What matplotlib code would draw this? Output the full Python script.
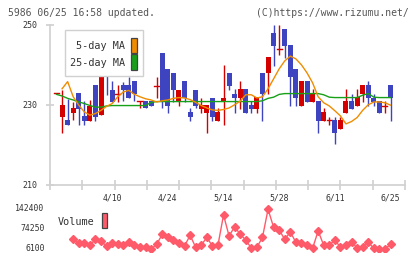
import numpy as np
import matplotlib
matplotlib.use("Agg")
import matplotlib.pyplot as plt
from matplotlib.patches import Rectangle
from matplotlib.transforms import blended_transform_factory

# ---------------- data ----------------
date_labels = ["4/10", "4/24", "5/14", "5/28", "6/11", "6/25"]
date_label_idx = [10, 20, 30, 40, 50, 60]

opens = [233.0, 227.0, 226.1, 228.0, 232.9, 227.1, 226.0, 234.9, 227.4, 238.9,
         233.8, 232.7, 234.9, 234.9, 235.9, 230.9, 230.9, 230.9, 234.7, 243.0,
         238.9, 237.9, 230.7, 235.9, 228.1, 233.8, 229.0, 228.0, 231.8, 226.0,
         230.7, 237.9, 232.8, 231.7, 233.9, 229.9, 229.0, 237.9, 237.9, 248.0,
         243.9, 249.0, 245.0, 238.9, 229.7, 235.9, 230.7, 230.9, 226.0, 226.1,
         226.1, 223.9, 228.0, 230.9, 229.7, 232.8, 234.9, 231.8, 230.9, 229.8,
         234.9]
closes = [233.0, 229.9, 225.0, 229.1, 229.0, 226.0, 229.8, 226.9, 236.9, 237.7,
          230.7, 232.7, 233.7, 231.7, 232.7, 230.9, 229.1, 229.8, 234.7, 230.7,
          229.8, 233.7, 233.8, 231.7, 227.0, 229.6, 229.9, 229.9, 227.0, 228.2,
          231.8, 234.7, 231.7, 233.9, 228.0, 229.0, 231.9, 232.8, 242.0, 244.8,
          243.9, 244.8, 236.9, 231.7, 235.9, 230.7, 232.8, 226.0, 228.1, 226.1,
          222.9, 226.1, 230.9, 229.0, 231.9, 234.9, 231.8, 230.7, 228.0, 229.8,
          231.8]
highs = [233.0, 233.7, 231.5, 230.7, 232.9, 231.0, 231.2, 234.9, 237.2, 238.9,
         236.0, 234.9, 235.7, 236.9, 235.9, 230.9, 230.9, 230.9, 236.9, 243.0,
         238.9, 237.9, 233.8, 235.9, 229.1, 233.8, 231.8, 229.9, 231.8, 229.1,
         240.0, 237.9, 233.9, 235.9, 233.9, 230.9, 231.9, 237.9, 242.0, 250.0,
         250.0, 249.0, 245.0, 238.9, 235.9, 235.9, 233.9, 230.9, 229.1, 226.9,
         226.9, 226.9, 233.9, 232.8, 233.9, 234.9, 235.9, 232.8, 230.9, 230.9,
         234.9]
lows = [233.0, 223.0, 225.0, 226.1, 225.0, 225.0, 226.0, 226.0, 227.4, 232.4,
        230.7, 230.7, 231.0, 231.7, 231.0, 229.1, 229.1, 229.8, 231.8, 229.1,
        228.0, 230.7, 229.6, 230.7, 226.0, 229.1, 228.0, 222.9, 226.0, 226.0,
        224.9, 233.7, 228.0, 229.0, 228.0, 228.0, 228.0, 226.0, 232.8, 239.8,
        242.6, 241.8, 229.7, 229.7, 229.7, 230.7, 230.7, 222.9, 226.0, 225.0,
        220.1, 223.9, 228.0, 229.0, 229.7, 230.7, 229.7, 229.7, 228.0, 228.0,
        226.0]
ma5 = [np.nan, 234.0, 235.8, 232.0, 229.9, 228.2, 227.4, 227.8, 228.6, 229.6,
       230.3, 232.0, 233.2, 233.6, 232.6, 232.0, 231.5, 231.2, 230.7, 231.0,
       231.2, 231.6, 231.8, 231.7, 231.3, 230.6, 229.8, 229.2, 228.7, 228.6,
       228.8, 229.2, 230.0, 230.9, 232.5, 232.5, 231.7, 232.0, 234.0, 236.5,
       239.0, 241.0, 242.2, 241.5, 240.0, 238.0, 235.5, 232.0, 230.5, 229.7,
       228.5, 227.2, 225.2, 225.8, 226.8, 228.6, 230.0, 230.7, 230.7, 230.5,
       229.9]
ma25 = [232.6, 232.2, 231.6, 231.2, 230.7, 230.3, 229.8, 229.4, 229.4, 229.7,
        229.8, 229.8, 229.8, 229.8, 229.8, 229.8, 229.8, 230.6, 230.8, 230.8,
        230.8, 230.8, 230.8, 230.8, 230.8, 230.8, 230.8, 230.8, 230.8, 230.8,
        230.8, 230.8, 230.8, 230.8, 230.8, 230.8, 230.8, 231.0, 231.6, 231.9,
        232.6, 232.8, 232.8, 232.8, 232.8, 232.8, 232.8, 232.8, 232.5, 231.9,
        231.8, 231.8, 231.8, 231.8, 231.8, 232.4, 232.8, 231.9, 231.8, 231.8,
        231.8]
volume = [np.nan, np.nan, np.nan, 38000, 24500, 26500, 17700, 38000, 31300, 15300,
          24500, 21100, 17700, 27900, 17700, 12900, 10900, 4100, 21100, 55200,
          45000, 34700, 24500, 15300, 51800, 10900, 17700, 45000, 15300, 17700,
          120900, 49400, 81000, 55200, 35700, 7500, 10900, 45000, 140400, 79000,
          69800, 38100, 63000, 27900, 24500, 17700, 7500, 66400, 17700, 17700,
          35700, 10900, 17700, 27900, 9500, 10900, 27900, 7500, 4100, 4100,
          21100]
vol_ticks = [142400, 74250, 6100]
price_ticks = [210, 230, 250]

# ---------------- style ----------------
W, H = 420, 259
DPI = 100
RED = "#d40000"
BLUE = "#3e44c0"
ORANGE = "#f08c00"
GREEN = "#18a018"
VOLC = "#ff5a6a"
GRAY = "#d0d0d0"
TXT = "#333333"
FONT = "DejaVu Sans Mono"

def px2fig_x(px):
    return px / W

def px2fig_y(py):
    return 1 - py / H

fig = plt.figure(figsize=(W / DPI, H / DPI), dpi=DPI)
fig.patch.set_facecolor("white")

# main axes: x 50..405 px, y 25..184.5 px
x0, x1 = 50, 405
ytop, ybot = 25, 184.5
ax = fig.add_axes([px2fig_x(x0), px2fig_y(ybot), (x1 - x0) / W, (ybot - ytop) / H])
n = len(closes)
step = 5.567
first_px = 56.5
xmin = (x0 - first_px) / step
xmax = (x1 - first_px) / step
ax.set_xlim(xmin, xmax)
ax.set_ylim(210, 250)
ax.set_facecolor("none")
for s in ["top", "right"]:
    ax.spines[s].set_visible(False)
for s in ["left", "bottom"]:
    ax.spines[s].set_color(GRAY)
    ax.spines[s].set_linewidth(1.2)

ax.set_yticks(price_ticks)
ax.set_yticklabels([str(t) for t in price_ticks], fontfamily=FONT, fontsize=6, color=TXT)
ax.tick_params(axis="y", direction="inout", length=6, width=1.2, color=GRAY, pad=6)
ax.set_xticks(np.linspace(xmin, xmax, 12))
ax.set_xticklabels([])
ax.tick_params(axis="x", direction="inout", length=7, width=1.2, color=GRAY)

bw = 0.9
xs = np.arange(n)
for i in xs:
    o, c, h, l = opens[i], closes[i], highs[i], lows[i]
    col = RED if c >= o else BLUE
    ax.plot([i, i], [l, h], color=col, lw=1.0, solid_capstyle="butt", zorder=3)
    if abs(c - o) < 0.05:
        ax.plot([i - bw / 2, i + bw / 2], [c, c], color=col, lw=1.0, zorder=4)
    else:
        ax.add_patch(Rectangle((i - bw / 2, min(o, c)), bw, abs(c - o),
                               facecolor=col, edgecolor="none", zorder=4))

ax.plot(xs, ma25, color=GREEN, lw=1.0, zorder=5)
ax.plot(xs, ma5, color=ORANGE, lw=1.0, zorder=5)

tr = blended_transform_factory(ax.transData, fig.transFigure)
for lab, idx in zip(date_labels, date_label_idx):
    ax.text(idx, px2fig_y(198), lab, transform=tr, ha="center", va="center",
            fontfamily=FONT, fontsize=5.9, color=TXT)

# legend box in main panel
fig.add_artist(Rectangle((px2fig_x(65), px2fig_y(76)), 78 / W, 46 / H,
                         transform=fig.transFigure, facecolor="white",
                         edgecolor=GRAY, lw=1.0, zorder=10))
fig.text(px2fig_x(125), px2fig_y(46), "5-day MA", ha="right", va="center",
         fontfamily=FONT, fontsize=7.3, color=TXT, zorder=11)
fig.text(px2fig_x(125), px2fig_y(63), "25-day MA", ha="right", va="center",
         fontfamily=FONT, fontsize=7.3, color=TXT, zorder=11)
fig.add_artist(Rectangle((px2fig_x(131), px2fig_y(53)), 6 / W, 15.5 / H,
                         transform=fig.transFigure, facecolor=ORANGE,
                         edgecolor="#444444", lw=0.9, zorder=11))
fig.add_artist(Rectangle((px2fig_x(131), px2fig_y(69.5)), 6 / W, 15.5 / H,
                         transform=fig.transFigure, facecolor=GREEN,
                         edgecolor="#444444", lw=0.9, zorder=11))

# header texts
fig.text(px2fig_x(8), px2fig_y(13), "5986 06/25 16:58 updated.", ha="left", va="center",
         fontfamily=FONT, fontsize=7.0, color="#555555")
fig.text(px2fig_x(409), px2fig_y(13), "(C)https://www.rizumu.net/", ha="right", va="center",
         fontfamily=FONT, fontsize=7.0, color="#555555")

# volume axes
vy_top, vy_bot = 205, 252
vax = fig.add_axes([px2fig_x(x0), px2fig_y(vy_bot), (x1 - x0) / W, (vy_bot - vy_top) / H])
vax.set_xlim(xmin, xmax)
per_px = (vol_ticks[0] - vol_ticks[2]) / 40.0
vax.set_ylim(vol_ticks[2] - (vy_bot - 248.7) * per_px, vol_ticks[2] + (248.7 - vy_top) * per_px)
vax.axis("off")
vax.plot(xs, volume, color=VOLC, lw=1.0, marker="D", ms=3.6, mec=VOLC, mfc=VOLC, zorder=3)
trv = blended_transform_factory(fig.transFigure, vax.transData)
for t in vol_ticks:
    fig.text(px2fig_x(44.5), t, str(t), transform=trv, ha="right", va="center",
             fontfamily=FONT, fontsize=5.9, color=TXT)

fig.text(px2fig_x(58), px2fig_y(222), "Volume", ha="left", va="center",
         fontfamily=FONT, fontsize=7.3, color=TXT)
fig.add_artist(Rectangle((px2fig_x(101.7), px2fig_y(228.3)), 5.6 / W, 15 / H,
                         transform=fig.transFigure, facecolor=VOLC,
                         edgecolor="#444444", lw=0.9, zorder=11))

fig.savefig("out.png", dpi=DPI, facecolor="white")
